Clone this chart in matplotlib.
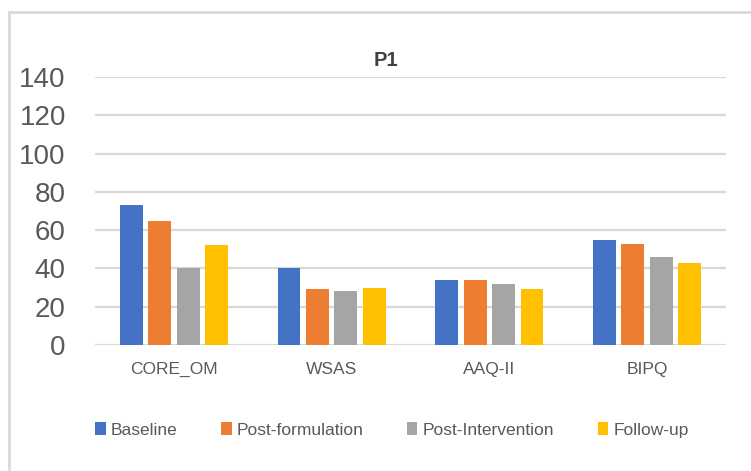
import numpy as np
import matplotlib.pyplot as plt
from matplotlib.patches import Rectangle

#************ data ******************
categories=['CORE_OM','WSAS','AAQ-II','BIPQ']
series_names=['Baseline','Post-formulation','Post-Intervention','Follow-up']
baseline         =[73,40,34,55]
post_formulation =[65,29,34,53]
post_intervention=[40,28,32,46]
follow_up        =[52,30,29,43]
yticks=[0,20,40,60,80,100,120,140]

colors=['#4472C4','#ED7D31','#A5A5A5','#FFC000']
text_color='#595959'
grid_color='#D9D9D9'
#************************************

plt.rcParams['font.family']=['Liberation Sans','DejaVu Sans']

fig=plt.figure(figsize=(7.51,4.71),dpi=100)
ax=fig.add_axes([95/751,1-345/471,631/751,268/471])

x=np.arange(len(categories))
width=0.145
pitch=0.18
values=[baseline,post_formulation,post_intervention,follow_up]
for i,(name,vals) in enumerate(zip(series_names,values)):
	ax.bar(x+(i-1.5)*pitch,vals,width,color=colors[i],label=name,zorder=3)

ax.set_xlim(-0.5,3.5)
ax.set_ylim(0,140)
ax.set_yticks(yticks)
ax.set_yticklabels([str(t) for t in yticks],fontsize=20,color=text_color)
ax.set_xticks(x)
ax.set_xticklabels(categories,fontsize=12.5,color=text_color)
ax.tick_params(axis='both',length=0)
ax.tick_params(axis='y',pad=21)
ax.tick_params(axis='x',pad=12)
ax.grid(axis='y',color=grid_color,linewidth=1.6,zorder=0)
for s in ax.spines.values():
	s.set_visible(False)

# title sits a bit left of the plot centre, as in the original
fig.text(386/751,1-60/471,'P1',fontsize=14.5,fontweight='bold',color='#404040',
	ha='center',va='center')

# chart frame
fig.patches.append(Rectangle((9/751,-0.1),1.2,1-12/471+0.1,transform=fig.transFigure,
	fill=False,edgecolor=grid_color,linewidth=2))

fig.legend(loc='center',bbox_to_anchor=(392/751,1-430/471),ncol=4,frameon=False,
	fontsize=12.5,handlelength=0.6,handleheight=0.8,handletextpad=0.3,columnspacing=2.5,
	labelcolor=text_color)

fig.savefig('out.png',dpi=100)
